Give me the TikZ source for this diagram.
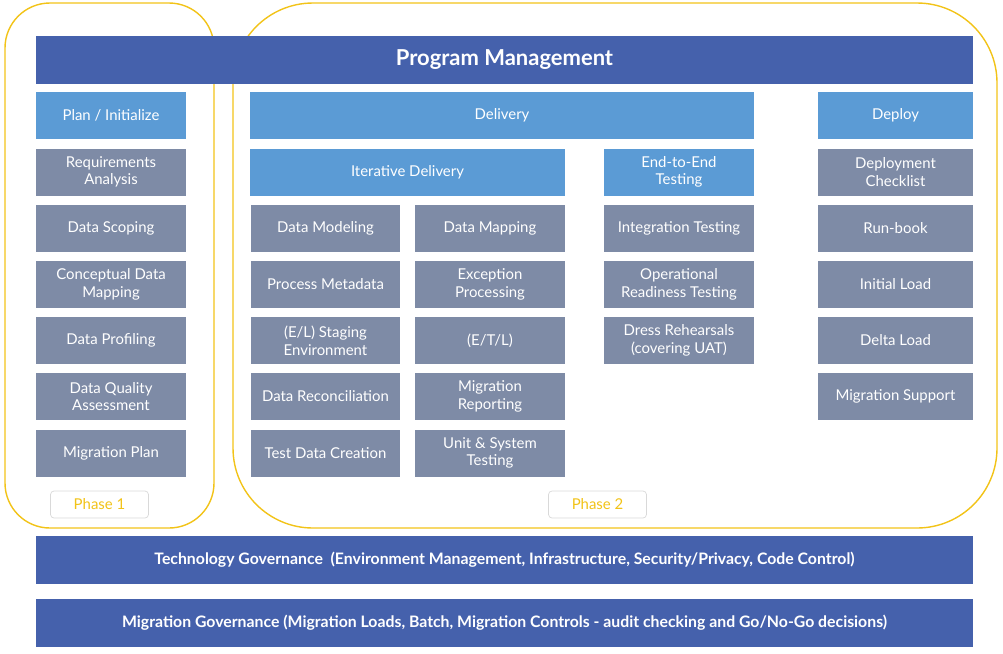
\documentclass[tikz,border=0pt]{standalone}
\usepackage{fontspec}
\setmainfont{Lato}
\usetikzlibrary{positioning}
\definecolor{pmblue}{HTML}{4561AC}
\definecolor{ltblue}{HTML}{5B9BD5}
\definecolor{boxgray}{HTML}{7E8BA6}
\definecolor{phaseyel}{HTML}{F2C318}
\tikzset{
  task/.style={fill=boxgray, text=white, minimum width=3cm, minimum height=0.94cm,
    inner sep=1pt, align=center, font=\fontsize{8.5}{10}\selectfont},
  head/.style={task, fill=ltblue},
  bar/.style={fill=pmblue, text=white, minimum width=18.74cm, minimum height=0.96cm,
    font=\bfseries\fontsize{9}{11}\selectfont},
  phase/.style={draw=phaseyel, line width=0.8pt},
  tag/.style={draw=black!15, fill=white, text=phaseyel, minimum width=1.96cm,
    minimum height=0.54cm, rounded corners=2pt, font=\fontsize{8.5}{10}\selectfont}
}
\begin{document}
\begin{tikzpicture}[x=0.02cm,y=-0.02cm]
    \useasboundingbox (0,0) rectangle (1003,653);

    % phase outlines
    \draw[phase, rounded corners=0.9cm] (5,3) rectangle (214,528);
    \draw[phase, rounded corners=1.6cm] (233,3) rectangle (997,528);

    \node[bar, minimum height=0.96cm, font=\bfseries\fontsize{12.5}{14}\selectfont] (pm) at (504.5,60) {Program Management};

    % phase 1 column
    \node[head] (plan) at (111,115.5) {Plan / Initialize};
    \node[task] (req)  at (111,172) {Requirements\\Analysis};
    \node[task] (scope) at (111,228.5) {Data Scoping};
    \node[task] (cdm)  at (111,284.5) {Conceptual Data\\Mapping};
    \node[task] (prof) at (111,340.5) {Data Profiling};
    \node[task] (dqa)  at (111,396.5) {Data Quality\\Assessment};
    \node[task] (mplan) at (111,453) {Migration Plan};

    % delivery
    \node[head, minimum width=10.08cm] (deliv) at (502,115.5) {Delivery};
    \node[head, minimum width=6.3cm] (iter) at (407.5,172) {Iterative Delivery};
    \node[head] (e2e) at (679,172) {End-to-End\\Testing};

    \node[task] (dmod) at (325.5,228.5) {Data Modeling};
    \node[task] (pmeta) at (325.5,284.5) {Process Metadata};
    \node[task] (stage) at (325.5,340.5) {(E/L) Staging\\Environment};
    \node[task] (recon) at (325.5,396.5) {Data Reconciliation};
    \node[task] (tdc) at (325.5,453) {Test Data Creation};

    \node[task] (dmap) at (490,228.5) {Data Mapping};
    \node[task] (exc) at (490,284.5) {Exception\\Processing};
    \node[task] (etl) at (490,340.5) {(E/T/L)};
    \node[task] (mrep) at (490,396.5) {Migration\\Reporting};
    \node[task] (unit) at (490,453) {Unit \& System\\Testing};

    \node[task] (integ) at (679,228.5) {Integration Testing};
    \node[task] (oper) at (679,284.5) {Operational\\Readiness Testing};
    \node[task] (dress) at (679,340.5) {Dress Rehearsals\\(covering UAT)};

    % deploy column
    \node[head, minimum width=3.1cm] (deploy) at (895.5,115.5) {Deploy};
    \node[task, minimum width=3.1cm] (check) at (895.5,172) {Deployment\\Checklist};
    \node[task, minimum width=3.1cm] (run) at (895.5,228.5) {Run-book};
    \node[task, minimum width=3.1cm] (init) at (895.5,284.5) {Initial Load};
    \node[task, minimum width=3.1cm] (delta) at (895.5,340.5) {Delta Load};
    \node[task, minimum width=3.1cm] (msup) at (895.5,396.5) {Migration Support};

    \node[tag] (ph1) at (99.5,504.5) {Phase 1};
    \node[tag] (ph2) at (597.5,504.5) {Phase 2};

    % governance bars
    \node[bar] (tech) at (504.5,560) {Technology Governance\ \ (Environment Management, Infrastructure, Security/Privacy, Code Control)};
    \node[bar] (mgov) at (504.5,622.5) {Migration Governance (Migration Loads, Batch, Migration Controls - audit checking and Go/No-Go decisions)};

\end{tikzpicture}
\end{document}
